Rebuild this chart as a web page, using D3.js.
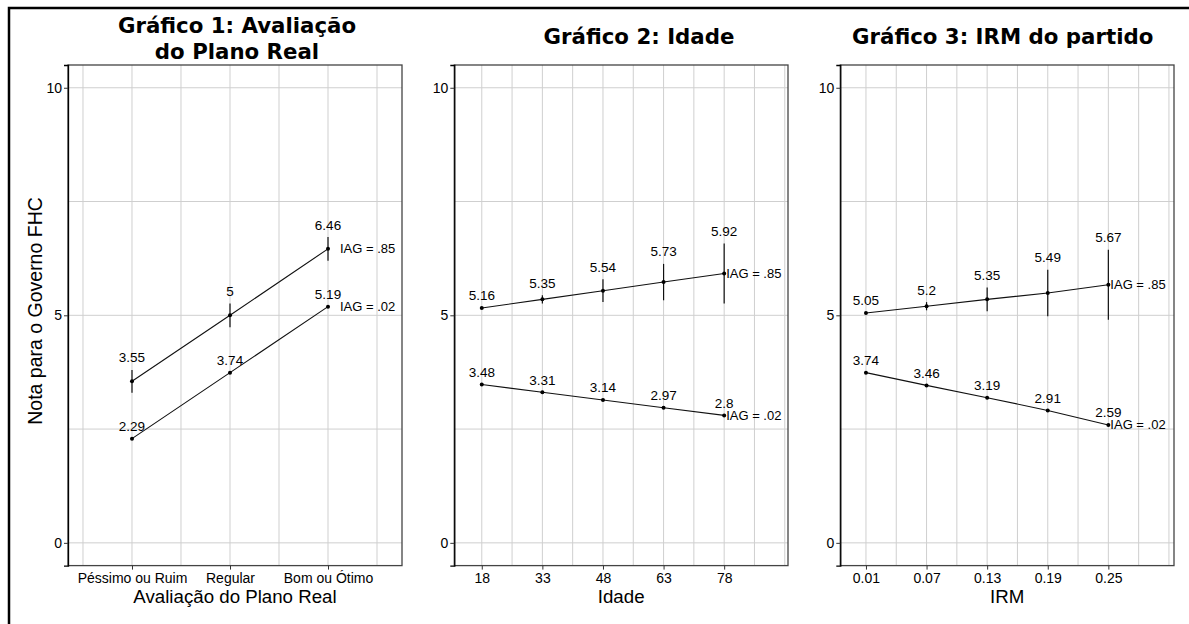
<!DOCTYPE html>
<html>
<head>
<meta charset="utf-8">
<script src="https://cdn.jsdelivr.net/npm/d3@7"></script>
<style>
  body { margin: 0; background: #fff; }
  svg { display: block; }
  text { font-family: "Liberation Sans", Arial, sans-serif; fill: #000; }
  .title { font-family: "DejaVu Sans", Verdana, sans-serif; font-weight: bold; font-size: 21.3px; }
  .grid { stroke: #cfcfcf; stroke-width: 1; }
</style>
</head>
<body>
<div id="chart"></div>
<script>
// ---- data ----
const planoCats = ["Péssimo ou Ruim", "Regular", "Bom ou Ótimo"];
const planoX = [1, 2, 3];
const planoAlto = [3.55, 5, 6.46];
const planoAltoIC = [0.25, 0.26, 0.26];
const planoBaixo = [2.29, 3.74, 5.19];
const planoBaixoIC = [0, 0, 0];

const idadeX = [18, 33, 48, 63, 78];
const idadeAlto = [5.16, 5.35, 5.54, 5.73, 5.92];
const idadeAltoIC = [0.02, 0.09, 0.25, 0.40, 0.66];
const idadeBaixo = [3.48, 3.31, 3.14, 2.97, 2.8];
const idadeBaixoIC = [0, 0, 0, 0, 0];

const irmX = [0.01, 0.07, 0.13, 0.19, 0.25];
const irmAlto = [5.05, 5.2, 5.35, 5.49, 5.67];
const irmAltoIC = [0.02, 0.09, 0.26, 0.51, 0.77];
const irmBaixo = [3.74, 3.46, 3.19, 2.91, 2.59];
const irmBaixoIC = [0, 0, 0, 0, 0];

const iagLabels = ["IAG = .85", "IAG = .02"];
const yTicks = [0, 5, 10];
const yGrid = [0, 2.5, 5, 7.5, 10];

const width = 1189, height = 624;

const svg = d3.select("#chart")
  .append("svg")
  .attr("width", width)
  .attr("height", height);

// outer frame (only top and left visible)
svg.append("rect")
  .attr("x", 9).attr("y", 8)
  .attr("width", width + 10).attr("height", height + 10)
  .attr("fill", "none")
  .attr("stroke", "#000")
  .attr("stroke-width", 2.5);

const plotTop = 65, plotBottom = 565.6;
const y = d3.scaleLinear().domain([-0.5, 10.5]).range([plotBottom, plotTop]);

const panels = [
  {
    left: 68, right: 402, domain: [0.347, 3.755],
    xs: planoX, tickLabels: planoCats,
    grid: d3.range(0.5, 3.51, 0.5),
    series: [[planoAlto, planoAltoIC], [planoBaixo, planoBaixoIC]],
    xTitle: "Avaliação do Plano Real",
    title: ["Gráfico 1: Avaliação", "do Plano Real"], titleX: 237,
    iagDx: 12
  },
  {
    left: 454.3, right: 788, domain: [11.2, 93.8],
    xs: idadeX, tickLabels: idadeX.map(String),
    grid: d3.range(18, 93.1, 7.5),
    series: [[idadeAlto, idadeAltoIC], [idadeBaixo, idadeBaixoIC]],
    xTitle: "Idade",
    title: ["Gráfico 2: Idade"], titleX: 639,
    iagDx: 2
  },
  {
    left: 840.3, right: 1174, domain: [-0.0154, 0.315],
    xs: irmX, tickLabels: irmX.map(d => d.toFixed(2)),
    grid: d3.range(0, 11).map(i => 0.01 + i * 0.03),
    series: [[irmAlto, irmAltoIC], [irmBaixo, irmBaixoIC]],
    xTitle: "IRM",
    title: ["Gráfico 3: IRM do partido"], titleX: 1002.7,
    iagDx: 2
  }
];

panels.forEach((p, pi) => {
  const x = d3.scaleLinear().domain(p.domain).range([p.left, p.right]);
  const g = svg.append("g");

  // gridlines
  g.selectAll(".gy").data(yGrid).join("line")
    .attr("class", "grid")
    .attr("x1", p.left).attr("x2", p.right)
    .attr("y1", d => y(d)).attr("y2", d => y(d));
  g.selectAll(".gx").data(p.grid).join("line")
    .attr("class", "grid")
    .attr("x1", d => x(d)).attr("x2", d => x(d))
    .attr("y1", plotTop).attr("y2", plotBottom);

  // panel border
  g.append("rect")
    .attr("x", p.left).attr("y", plotTop)
    .attr("width", p.right - p.left).attr("height", plotBottom - plotTop)
    .attr("fill", "none")
    .attr("stroke", "#444")
    .attr("stroke-width", 1.3);

  // y axis
  const yAxis = d3.axisLeft(y).tickValues(yTicks).tickSize(4).tickPadding(2);
  const ya = g.append("g").attr("transform", `translate(${p.left},0)`).call(yAxis);
  ya.select(".domain").attr("stroke", "#000").attr("stroke-width", 1.3);
  ya.selectAll(".tick line").attr("stroke", "#333");
  ya.selectAll(".tick text").style("font-size", "14px").attr("fill", "#000");

  // x axis
  const xAxis = d3.axisBottom(x).tickValues(p.xs)
    .tickFormat((d, i) => p.tickLabels[i]).tickSize(4).tickPadding(3);
  const xa = g.append("g").attr("transform", `translate(0,${plotBottom})`).call(xAxis);
  xa.select(".domain").remove();
  xa.selectAll(".tick line").attr("stroke", "#333");
  xa.selectAll(".tick text").style("font-size", "14px").attr("fill", "#000");

  // series
  p.series.forEach(([vals, ic], si) => {
    const pts = p.xs.map((xv, i) => ({ x: xv, v: vals[i], ic: ic[i] }));

    g.append("path")
      .datum(pts)
      .attr("fill", "none")
      .attr("stroke", "#111")
      .attr("stroke-width", 1.1)
      .attr("d", d3.line().x(d => x(d.x)).y(d => y(d.v)));

    g.selectAll(null).data(pts.filter(d => d.ic > 0)).join("line")
      .attr("x1", d => x(d.x)).attr("x2", d => x(d.x))
      .attr("y1", d => y(d.v - d.ic)).attr("y2", d => y(d.v + d.ic))
      .attr("stroke", "#111")
      .attr("stroke-width", 1.2);

    g.selectAll(null).data(pts).join("circle")
      .attr("cx", d => x(d.x)).attr("cy", d => y(d.v))
      .attr("r", 2).attr("fill", "#000");

    g.selectAll(null).data(pts).join("text")
      .attr("x", d => x(d.x))
      .attr("y", d => y(d.v + d.ic) - 12)
      .attr("text-anchor", "middle")
      .attr("dominant-baseline", "central")
      .style("font-size", "13.5px")
      .text(d => String(d.v));

    const last = pts[pts.length - 1];
    g.append("text")
      .attr("x", x(last.x) + p.iagDx)
      .attr("y", y(last.v))
      .attr("dominant-baseline", "central")
      .style("font-size", "13px")
      .text(iagLabels[si]);
  });

  // x title
  g.append("text")
    .attr("x", (p.left + p.right) / 2)
    .attr("y", 596)
    .attr("text-anchor", "middle")
    .attr("dominant-baseline", "central")
    .style("font-size", "18.7px")
    .text(p.xTitle);

  // panel title
  const t0 = p.title.length === 2 ? 25 : 36.7;
  p.title.forEach((line, li) => {
    g.append("text")
      .attr("class", "title")
      .attr("x", p.titleX)
      .attr("y", t0 + li * 26.5)
      .attr("text-anchor", "middle")
      .attr("dominant-baseline", "central")
      .text(line);
  });
});

// y title
svg.append("text")
  .attr("transform", "translate(35,311) rotate(-90)")
  .attr("text-anchor", "middle")
  .attr("dominant-baseline", "central")
  .style("font-size", "19.5px")
  .text("Nota para o Governo FHC");
</script>
</body>
</html>
